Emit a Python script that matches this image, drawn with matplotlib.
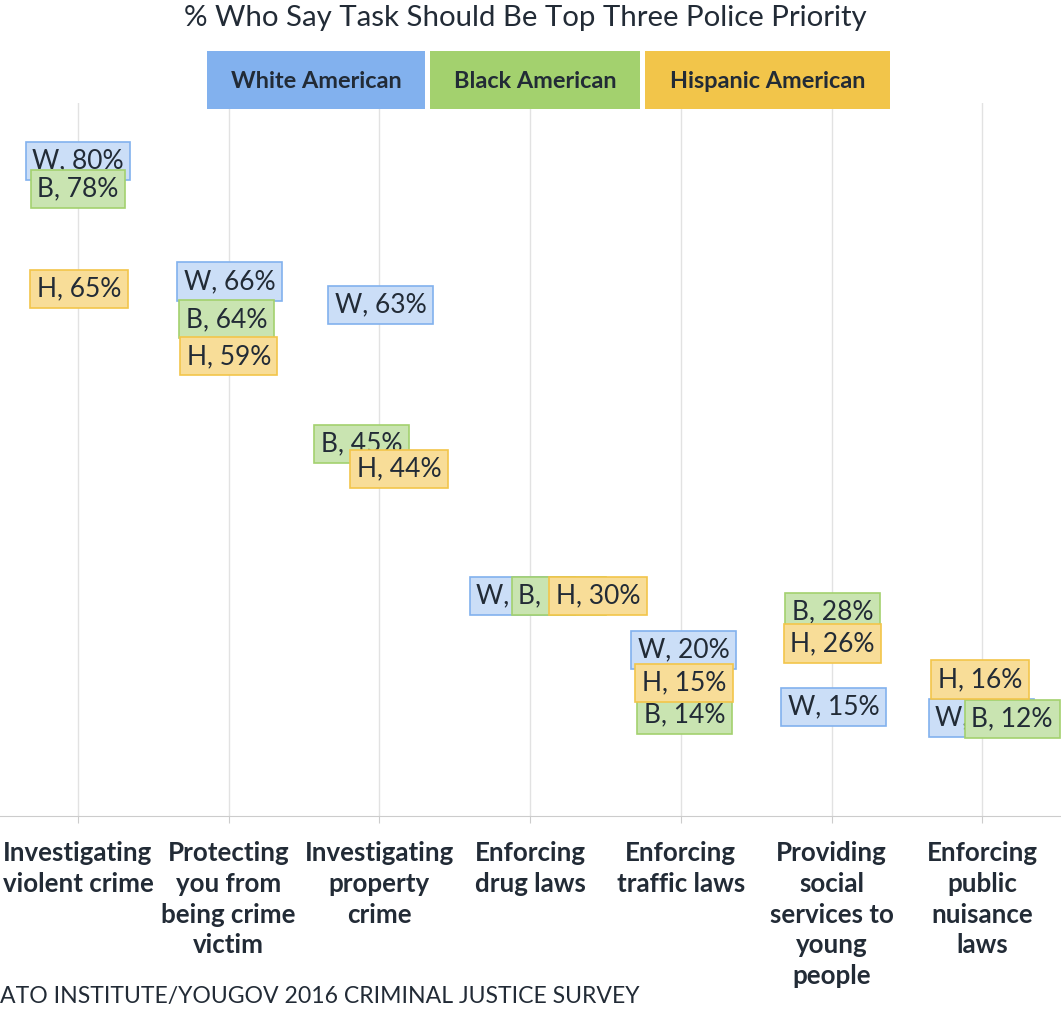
import matplotlib
matplotlib.use('Agg')
from matplotlib import pyplot as plt
from matplotlib.patches import Rectangle

plt.rcParams['font.family'] = ['Lato', 'DejaVu Sans']

# survey data (% who say task should be a top three police priority)
categories = ['Investigating\nviolent crime', 'Protecting\nyou from\nbeing crime\nvictim',
              'Investigating\nproperty\ncrime', 'Enforcing\ndrug laws', 'Enforcing\ntraffic laws',
              'Providing\nsocial\nservices to\nyoung\npeople', 'Enforcing\npublic\nnuisance\nlaws']
white    = [80, 66, 63, 30, 20, 15, 12]
black    = [78, 64, 45, 30, 14, 28, 12]
hispanic = [65, 59, 44, 30, 15, 26, 16]

groups  = ['White American', 'Black American', 'Hispanic American']
prefix  = ['W', 'B', 'H']
strong  = ['#82b1ee', '#a3d16e', '#f2c54a']
light   = ['#cbdef7', '#c9e4b1', '#f8dd98']
ink     = '#222b36'

# label nudges (pixels) so overlapping boxes stay readable
nudges = [
    [(0, 0), (1, -3), (1, -1), (-8, -15), (3, 15), (2, 0), (-1, 14)],
    [(0, -11), (-2, -24), (-18, 11), (29, -15), (4, 0), (1, -14), (30, 13)],
    [(1, -2), (0, -19), (20, -6), (68, -15), (3, 24), (1, -29), (-2, 19)],
]

W, H = 1061, 1019
fig = plt.figure(figsize=(W / 100, H / 100), dpi=100)
ax = fig.add_axes([0, (H - 816) / H, 1, (816 - 103) / H])
ax.set_xlim(-78 / 150.7, (W - 78) / 150.7)
ax.set_ylim(2.0, (833 - 103) / 8.4)

for s in ['top', 'right', 'left']:
    ax.spines[s].set_visible(False)
ax.spines['bottom'].set_color('#cccccc')
ax.set_yticks([])
ax.set_xticks(range(len(categories)))
ax.set_xticklabels(categories, fontsize=18.6, fontweight='bold', color=ink, linespacing=1.34)
ax.tick_params(axis='x', length=5, color='#cccccc', pad=13)
for i in range(len(categories)):
    ax.axvline(i, color='#e2e2e2', lw=1, zorder=0)

for g, series in enumerate([white, black, hispanic]):
    for i, v in enumerate(series):
        dx, dy = nudges[g][i]
        ax.annotate('%s, %d%%' % (prefix[g], v), xy=(i, v), xytext=(dx, dy),
                    textcoords='offset pixels', ha='center', va='center',
                    fontsize=19, color=ink, zorder=3 + g,
                    bbox=dict(boxstyle='square,pad=0.25', fc=light[g], ec=strong[g], lw=1.2))

# title and group key
fig.text(525 / W, 1 - 18 / H, '% Who Say Task Should Be Top Three Police Priority',
         ha='center', va='center', fontsize=21.2, color=ink)
key_x = [(207, 425), (430, 640), (645, 890)]
for g, (x0, x1) in enumerate(key_x):
    fig.patches.append(Rectangle((x0 / W, 1 - 109 / H), (x1 - x0) / W, 58 / H,
                                 transform=fig.transFigure, fc=strong[g], ec='none'))
    fig.text((x0 + x1) / 2 / W, 1 - 82 / H, groups[g], ha='center', va='center',
             fontsize=16.9, fontweight='bold', color=ink)

fig.text(0, 1 - 996 / H, 'ATO INSTITUTE/YOUGOV 2016 CRIMINAL JUSTICE SURVEY',
         ha='left', va='center', fontsize=16.6, color=ink)

fig.savefig('out.png', dpi=100)
